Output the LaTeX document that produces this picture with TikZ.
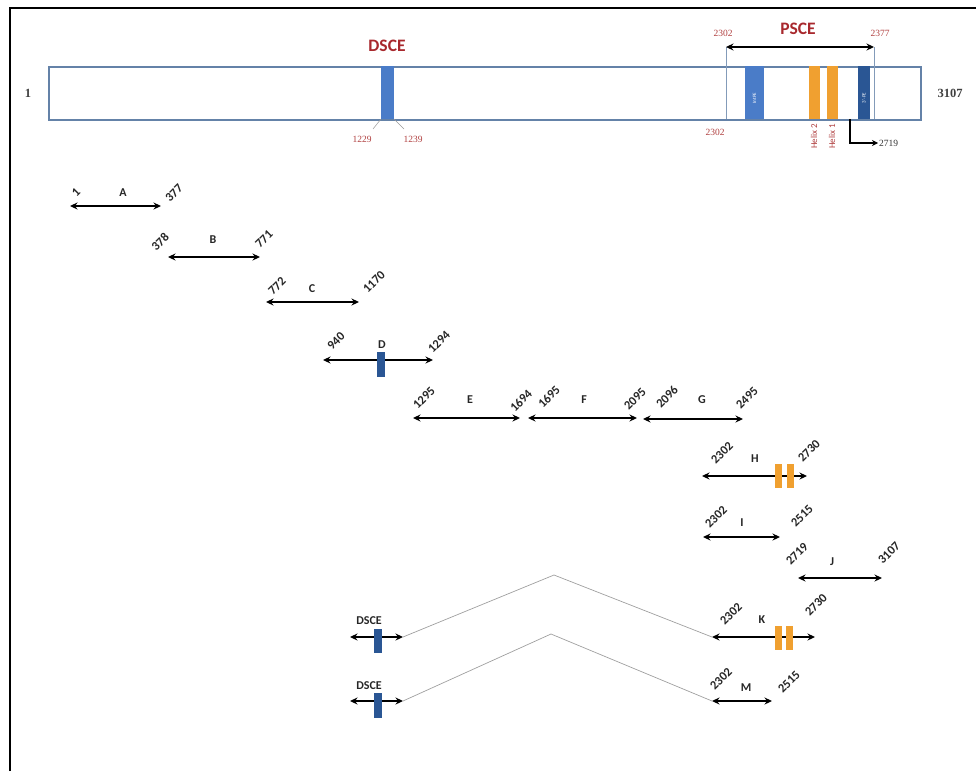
\documentclass[tikz,border=0pt]{standalone}
\usepackage{fontspec}
\setmainfont{Liberation Serif}
\newfontfamily\calfont{Carlito}
\usetikzlibrary{arrows.meta}
\definecolor{boxedge}{HTML}{6482A8}
\definecolor{blk}{HTML}{4A7CC8}
\definecolor{dblk}{HTML}{2A5694}
\definecolor{orng}{HTML}{F0A030}
\definecolor{dred}{HTML}{A8282D}
\definecolor{lred}{HTML}{B04040}
\begin{document}
\begin{tikzpicture}[x=1pt,y=-1pt,
  frag/.style={line width=1.9pt,{Stealth[length=7.5pt,width=7pt]}-{Stealth[length=7.5pt,width=7pt]}},
  rnum/.style={font=\calfont\bfseries\fontsize{12.5}{12.5}\selectfont,rotate=45,inner sep=0pt,text=black!85},
  flab/.style={font=\calfont\bfseries\fontsize{12}{12}\selectfont,inner sep=0pt,text=black!85},
  redlab/.style={font=\calfont\bfseries\fontsize{17.5}{17.5}\selectfont,inner sep=0pt,text=dred},
  rednum/.style={font=\fontsize{9.5}{9.5}\selectfont,inner sep=0pt,text=lred},
  helixlab/.style={font=\calfont\fontsize{9}{9}\selectfont,inner sep=0pt,text=lred},
  blknum/.style={font=\bfseries\fontsize{12.5}{12.5}\selectfont,inner sep=0pt,text=black!75},
  dscelab/.style={font=\calfont\bfseries\fontsize{12}{12}\selectfont,inner sep=0pt,text=black!85},
  thin/.style={line width=0.5pt,draw=gray!80},
  fragline/.style={line width=0.7pt,draw=gray!75}
]
\useasboundingbox (0,0) rectangle (976,771);
% frame
\draw[line width=2.5pt] (10,771) -- (10,8) -- (976,8);

% main box
\node[draw=boxedge,line width=1.8pt,minimum width=872pt,minimum height=53pt,inner sep=0pt,anchor=north west] (main) at (48,66) {};
\node[blknum] (one) at (28,93) {1};
\node[blknum] (end) at (950,93) {3107};

% DSCE in main box
\fill[blk] (381,66) rectangle (394,119);
\node[redlab] (dsce) at (387,46) {DSCE};
\coordinate (d1) at (381,119); \coordinate (d2) at (394,119);
\coordinate (d1e) at (373,129); \coordinate (d2e) at (404,129);
\draw[thin] (d1) -- (d1e);
\draw[thin] (d2) -- (d2e);
\node[rednum] (n1229) at (362,139) {1229};
\node[rednum] (n1239) at (413,139) {1239};

% PSCE
\coordinate (pl) at (726,47); \coordinate (pr) at (874,47);
\coordinate (plb) at (726,119); \coordinate (prb) at (874,119);
\draw[thin,draw=boxedge!80] (pl) -- (plb);
\draw[thin,draw=boxedge!80] (pr) -- (prb);
\fill[blk] (745,66) rectangle (764,119);
\fill[orng] (809,66) rectangle (820,119);
\fill[orng] (827,66) rectangle (838,119);
\fill[dblk] (858,66) rectangle (870,119);
\node[rotate=90,text=white,font=\calfont\fontsize{5}{5}\selectfont,inner sep=0pt] (intpe) at (754.5,98) {IntPE};
\node[rotate=90,text=white,font=\calfont\fontsize{5}{5}\selectfont,inner sep=0pt] (tpe) at (864,98) {3'-PE};
\draw[frag] (pl) -- (pr);
\node[redlab] (psce) at (798,29) {PSCE};
\node[rednum] (p2302) at (723,33) {2302};
\node[rednum] (p2377) at (880,33) {2377};
\node[rednum] (p2302b) at (715,132) {2302};
\node[rotate=90,helixlab,anchor=east] (h2) at (814,124) {Helix 2};
\node[rotate=90,helixlab,anchor=east] (h1) at (832,124) {Helix 1};
\coordinate (ba) at (850,119); \coordinate (bb) at (850,143);
\node[font=\fontsize{9.5}{9.5}\selectfont,inner sep=1pt,anchor=west,text=black!80] (n2719) at (878,143) {2719};
\draw[line width=1.5pt,-{Stealth[length=6pt,width=6pt]}] (ba) -- (bb) -- (n2719.west);

% fragments
% A
\coordinate (a1) at (70,206); \coordinate (a2) at (161,206);
\draw[frag] (a1) -- (a2);
\node[flab] (la) at (123,193) {A};
\node[rnum] (na1) at (76,192) {1};
\node[rnum] (na2) at (174,193) {377};
% B
\coordinate (b1) at (168,257); \coordinate (b2) at (260,257);
\draw[frag] (b1) -- (b2);
\node[flab] (lb) at (213,240) {B};
\node[rnum] (nb1) at (160,242) {378};
\node[rnum] (nb2) at (264,239) {771};
% C
\coordinate (c1) at (266,302); \coordinate (c2) at (359,302);
\draw[frag] (c1) -- (c2);
\node[flab] (lc) at (312,289) {C};
\node[rnum] (nc1) at (277,286) {772};
\node[rnum] (nc2) at (374,282) {1170};
% D
\coordinate (dd1) at (323,360); \coordinate (dd2) at (433,360);
\draw[frag] (dd1) -- (dd2);
\fill[dblk] (377,352) rectangle (385,377);
\node[flab] (ld) at (382,345) {D};
\node[rnum] (nd1) at (336,341) {940};
\node[rnum] (nd2) at (439,342) {1294};
% E
\coordinate (e1) at (413,418); \coordinate (e2) at (520,418);
\draw[frag] (e1) -- (e2);
\node[flab] (le) at (470,400) {E};
\node[rnum] (ne1) at (424,398) {1295};
\node[rnum] (ne2) at (521,401) {1694};
% F
\coordinate (f1) at (528,418); \coordinate (f2) at (637,418);
\draw[frag] (f1) -- (f2);
\node[flab] (lf) at (584,400) {F};
\node[rnum] (nf1) at (549,397) {1695};
\node[rnum] (nf2) at (635,399) {2095};
% G
\coordinate (g1) at (643,419); \coordinate (g2) at (743,419);
\draw[frag] (g1) -- (g2);
\node[flab] (lg) at (702,400) {G};
\node[rnum] (ng1) at (667,397) {2096};
\node[rnum] (ng2) at (747,398) {2495};
% H
\coordinate (h1a) at (702,476); \coordinate (h1b) at (807,476);
\draw[frag] (h1a) -- (h1b);
\fill[orng] (775,464) rectangle (782,488);
\fill[orng] (787,464) rectangle (794,488);
\node[flab] (lh) at (755,459) {H};
\node[rnum] (nh1) at (722,453) {2302};
\node[rnum] (nh2) at (809,451) {2730};
% I
\coordinate (i1) at (703,537); \coordinate (i2) at (780,537);
\draw[frag] (i1) -- (i2);
\node[flab] (li) at (742,523) {I};
\node[rnum] (ni1) at (716,517) {2302};
\node[rnum] (ni2) at (802,516) {2515};
% J
\coordinate (j1) at (798,578); \coordinate (j2) at (882,578);
\draw[frag] (j1) -- (j2);
\node[flab] (lj) at (832,562) {J};
\node[rnum] (nj1) at (797,554) {2719};
\node[rnum] (nj2) at (889,553) {3107};
% K
\coordinate (k0a) at (350,637); \coordinate (k0b) at (403,637);
\draw[frag] (k0a) -- (k0b);
\fill[dblk] (374,629) rectangle (382,653);
\node[dscelab] (kds) at (369,621) {DSCE};
\coordinate (k1) at (712,637); \coordinate (k2) at (815,637);
\coordinate (kpk) at (554,575);
\draw[fragline] (k0b) -- (kpk) -- (k1);
\draw[frag] (k1) -- (k2);
\fill[orng] (775,626) rectangle (782,650);
\fill[orng] (786,626) rectangle (793,650);
\node[flab] (lk) at (762,620) {K};
\node[rnum] (nk1) at (731,614) {2302};
\node[rnum] (nk2) at (816,605) {2730};
% M
\coordinate (m0a) at (350,701); \coordinate (m0b) at (403,701);
\draw[frag] (m0a) -- (m0b);
\fill[dblk] (374,693) rectangle (382,718);
\node[dscelab] (mds) at (369,686) {DSCE};
\coordinate (m1) at (712,701); \coordinate (m2) at (772,701);
\coordinate (mpk) at (551,634);
\draw[fragline] (m0b) -- (mpk) -- (m1);
\draw[frag] (m1) -- (m2);
\node[flab] (lm) at (746,688) {M};
\node[rnum] (nm1) at (721,679) {2302};
\node[rnum] (nm2) at (789,682) {2515};
\end{tikzpicture}
\end{document}
